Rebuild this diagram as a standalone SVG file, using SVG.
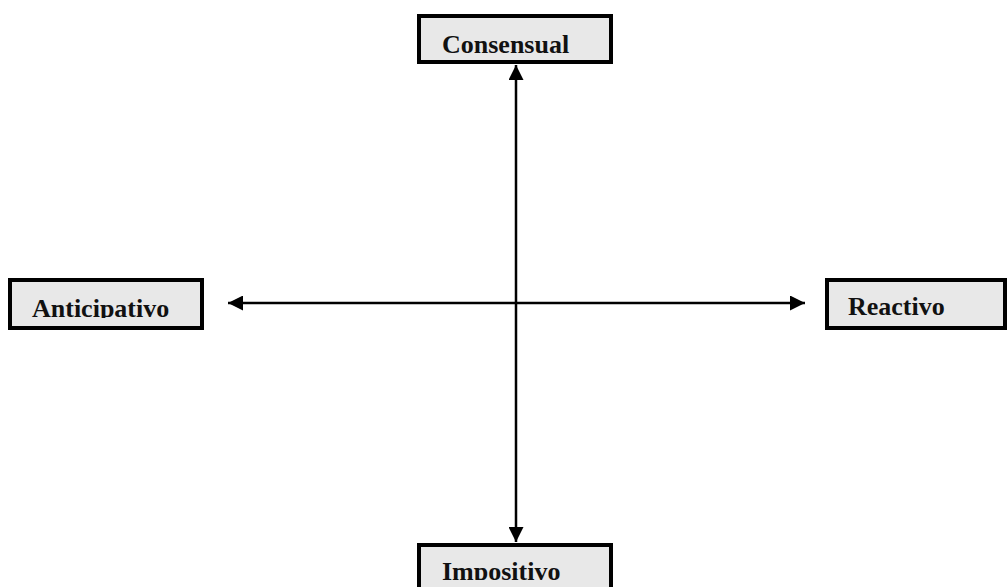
<svg xmlns="http://www.w3.org/2000/svg" width="1007" height="587" viewBox="0 0 1007 587">
<style>
.box{fill:#e8e8e8;stroke:#000;stroke-width:4}
.lbl{font-family:"Liberation Serif","Times New Roman",serif;font-weight:bold;font-size:26px;fill:#111}
.conn{stroke:#000;stroke-width:2.5;fill:none}
</style>
<defs>
<marker id="ah" viewBox="0 0 10 10" refX="10" refY="5" markerWidth="6" markerHeight="6" orient="auto-start-reverse" markerUnits="strokeWidth">
<path d="M0,0 L10,5 L0,10 z" fill="#000"/>
</marker>
<clipPath id="c1"><rect x="0" y="0" width="1007" height="318"/></clipPath>
<clipPath id="c2"><rect x="0" y="0" width="1007" height="580"/></clipPath>
</defs>
<g id="connectors">
<line class="conn" x1="516" y1="65" x2="516" y2="542" marker-start="url(#ah)" marker-end="url(#ah)"/>
<line class="conn" x1="228" y1="303" x2="805" y2="303" marker-start="url(#ah)" marker-end="url(#ah)"/>
</g>
<g id="consensual">
<rect class="box" x="419" y="16" width="192" height="46"/>
<text class="lbl" x="442" y="53">Consensual</text>
</g>
<g id="anticipativo">
<rect class="box" x="10" y="280" width="192" height="48"/>
<text class="lbl" x="32" y="317" clip-path="url(#c1)">Anticipativo</text>
</g>
<g id="reactivo">
<rect class="box" x="827" y="280" width="178" height="48"/>
<text class="lbl" x="848" y="315">Reactivo</text>
</g>
<g id="impositivo">
<rect class="box" x="419" y="545" width="192" height="50"/>
<text class="lbl" x="442" y="580" clip-path="url(#c2)">Impositivo</text>
</g>
</svg>
